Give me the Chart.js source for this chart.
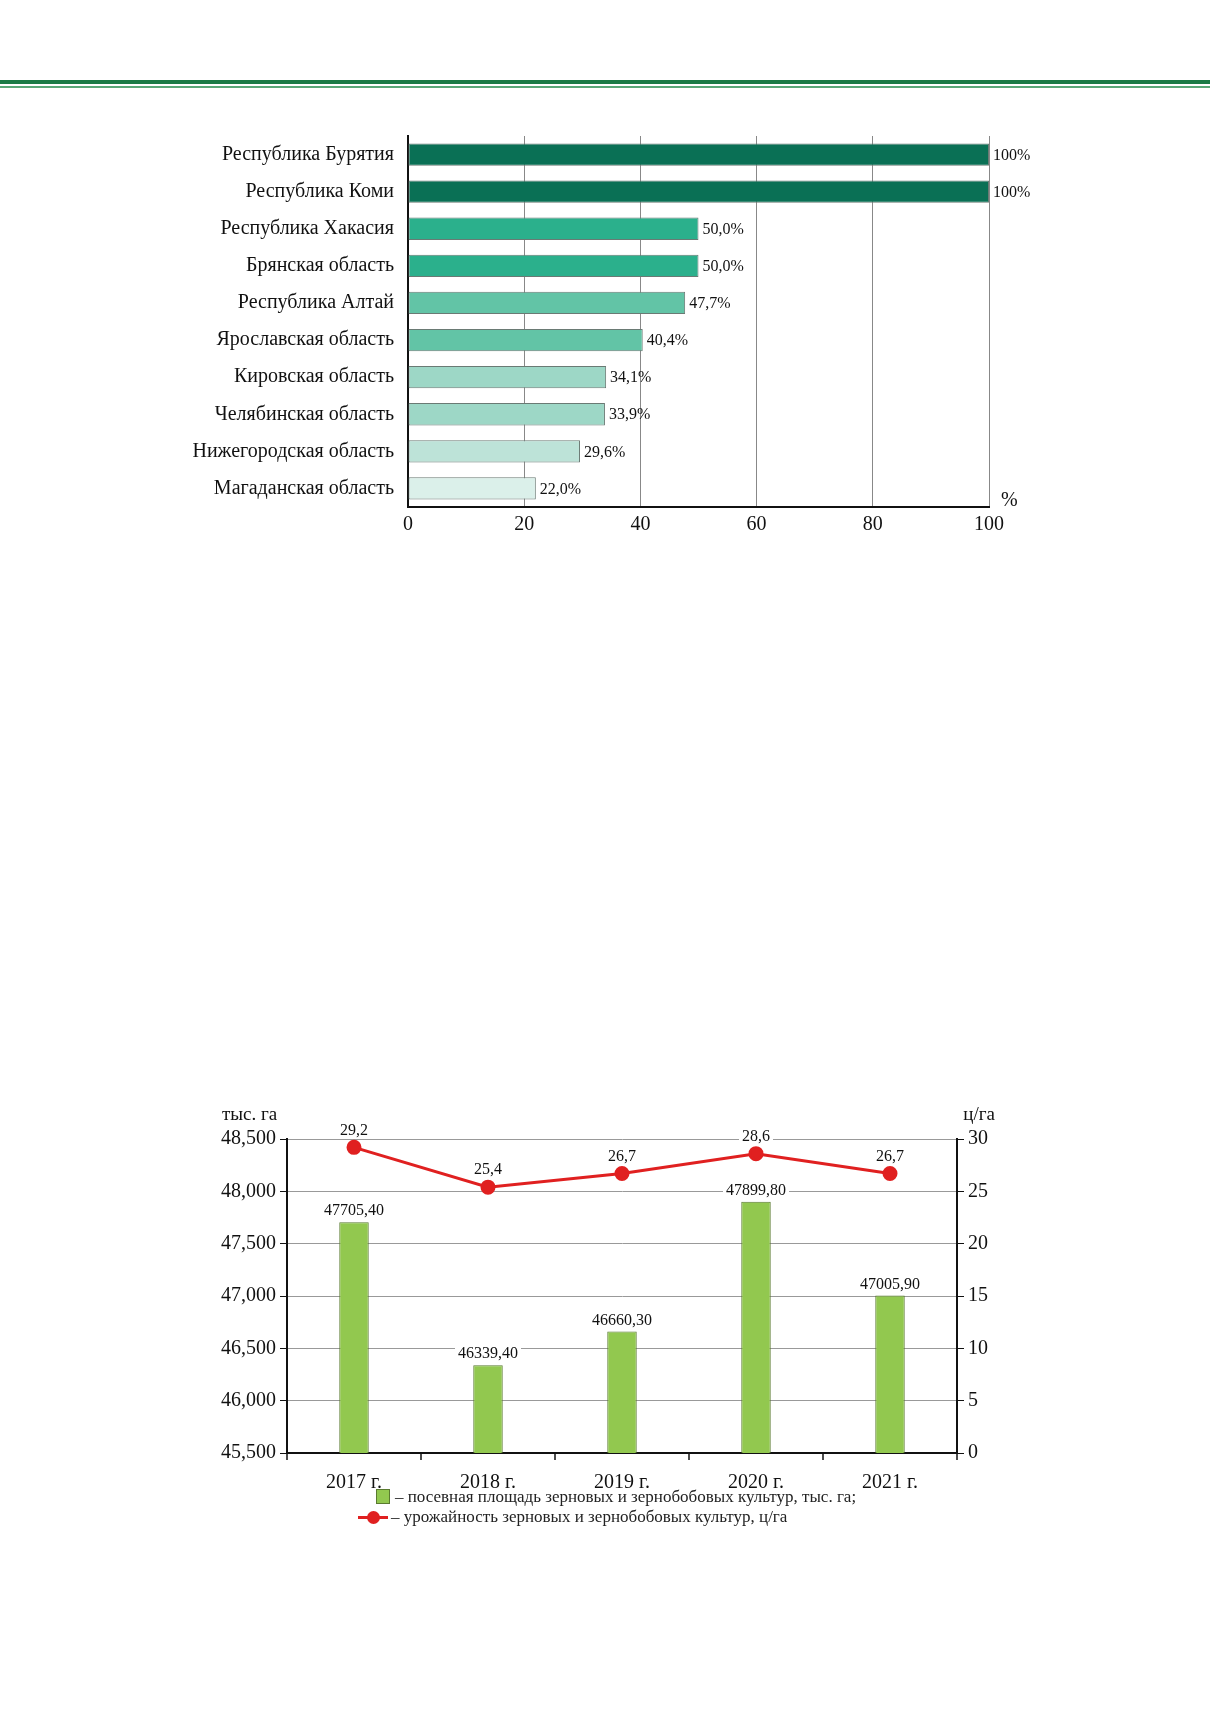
<!DOCTYPE html>
<html><head><meta charset="utf-8">
<script src="https://cdn.jsdelivr.net/npm/chart.js@4"></script>
<style>
body{margin:0;width:1210px;height:1712px;background:#fff;position:relative;font-family:"Liberation Serif",serif;overflow:hidden}
.hl1{position:absolute;left:0;width:1210px;top:80px;height:4px;background:#1a7a45}
.hl2{position:absolute;left:0;width:1210px;top:86px;height:2px;background:#5aa878}
#c1wrap{position:absolute;left:0;top:118px;width:1100px;height:430px}
#c2wrap{position:absolute;left:0;top:1090px;width:1210px;height:403px}
.leg{position:absolute;font-size:17px;color:#222;white-space:nowrap}
</style></head><body>
<div class="hl1"></div><div class="hl2"></div>
<div id="c1wrap"><canvas id="c1"></canvas></div>
<div id="c2wrap"><canvas id="c2"></canvas></div>
<div class="leg" style="left:376px;top:1487px"><span style="display:inline-block;width:12px;height:13px;background:#92c84f;border:1px solid #5a7a30;vertical-align:-2px;margin-right:5px"></span>– посевная площадь зерновых и зернобобовых культур, тыс. га;</div>
<div class="leg" style="left:358px;top:1507px"><span style="display:inline-block;position:relative;width:30px;height:13px;vertical-align:-2px;margin-right:3px"><span style="position:absolute;left:0;top:5px;width:30px;height:3px;background:#e02020"></span><span style="position:absolute;left:9px;top:0;width:13px;height:13px;border-radius:50%;background:#e02020"></span></span>– урожайность зерновых и зернобобовых культур, ц/га</div>
<script>
const regions=["Республика Бурятия","Республика Коми","Республика Хакасия","Брянская область","Республика Алтай","Ярославская область","Кировская область","Челябинская область","Нижегородская область","Магаданская область"];
const shares=[100,100,50.0,50.0,47.7,40.4,34.1,33.9,29.6,22.0];
const shareColors=["#0a7055","#0a7055","#2bb08c","#2bb08c","#62c4a6","#62c4a6","#9dd7c6","#9dd7c6","#bde3d8","#dbf0ea"];
const pctTicks=[0,20,40,60,80,100];

const years=["2017 г.","2018 г.","2019 г.","2020 г.","2021 г."];
const area=[47705.40,46339.40,46660.30,47899.80,47005.90];
const yieldV=[29.2,25.4,26.7,28.6,26.7];

const F="'Liberation Serif', serif";
Chart.defaults.font.family=F;
Chart.defaults.color="#111";

const fmt1=v=>v===100?"100%":v.toFixed(1).replace(".",",")+"%";
const barLabels={id:"bl",afterDatasetsDraw(ch){const c=ch.ctx;const m=ch.getDatasetMeta(0);c.save();c.font="16px "+F;c.fillStyle="#111";c.textBaseline="middle";
m.data.forEach((b,i)=>{c.fillText(fmt1(shares[i]),b.x+4,b.y+1);});
c.font="20px "+F;c.fillText("%",ch.chartArea.right+12,ch.chartArea.bottom-6);c.restore();}};

new Chart(document.getElementById("c1"),{type:"bar",
data:{labels:regions,datasets:[{data:shares,backgroundColor:shareColors,borderColor:"#6a7a74",borderWidth:1,borderSkipped:false,barPercentage:0.6,categoryPercentage:1}]},
options:{indexAxis:"y",responsive:true,maintainAspectRatio:false,animation:false,
layout:{padding:{top:10,right:111,left:0,bottom:0}},
plugins:{legend:{display:false},tooltip:{enabled:false}},
scales:{
x:{min:0,max:100,afterBuildTicks(a){a.ticks=pctTicks.map(v=>({value:v}));},afterFit(a){a.height=41;},
grid:{color:"#888",lineWidth:1,drawTicks:false},border:{color:"#111",width:2},
ticks:{font:{size:20},padding:6,callback:v=>v}},
y:{afterFit(a){a.width=408;},grid:{display:false},border:{color:"#111",width:2},
ticks:{font:{size:20},padding:6,color:"#111"}}}},plugins:[barLabels]});

const lab2={id:"l2",afterDatasetsDraw(ch){const c=ch.ctx;c.save();c.font="16px "+F;c.textAlign="center";c.textBaseline="bottom";
const put=(t,x,y)=>{const w=c.measureText(t).width;c.fillStyle="#fff";c.fillRect(x-w/2-3,y-17,w+6,17);c.fillStyle="#111";c.fillText(t,x,y);};
ch.getDatasetMeta(0).data.forEach((b,i)=>put(area[i].toFixed(2).replace(".",","),b.x,b.y-3));
ch.getDatasetMeta(1).data.forEach((p,i)=>put(yieldV[i].toFixed(1).replace(".",","),p.x,p.y-9));
c.font="19px "+F;c.textAlign="left";c.fillText("тыс. га",222,ch.chartArea.top-14);c.textAlign="right";c.fillText("ц/га",995,ch.chartArea.top-14);
// x tick marks between categories
c.strokeStyle="#111";c.lineWidth=1.5;const a=ch.chartArea,s=(a.right-a.left)/5;
for(let i=0;i<=5;i++){const x=a.left+i*s;c.beginPath();c.moveTo(x,a.bottom);c.lineTo(x,a.bottom+7);c.stroke();}
c.restore();}};

new Chart(document.getElementById("c2"),{type:"bar",
data:{labels:years,datasets:[
{type:"bar",data:area,yAxisID:"y",backgroundColor:"#92c84f",borderColor:"#5a7a30",borderWidth:1,borderSkipped:false,barPercentage:0.22,categoryPercentage:1,order:2},
{type:"line",data:yieldV,yAxisID:"y1",borderColor:"#e02020",backgroundColor:"#e02020",borderWidth:3,pointRadius:6,pointHoverRadius:6,tension:0,order:1}]},
options:{responsive:true,maintainAspectRatio:false,animation:false,
layout:{padding:{top:49,left:0,right:0,bottom:0}},
plugins:{legend:{display:false},tooltip:{enabled:false}},
scales:{
x:{afterFit(a){a.height=40;},grid:{display:false},border:{color:"#111",width:2},ticks:{font:{size:20},padding:10}},
y:{position:"left",min:45500,max:48500,afterFit(a){a.width=287;},ticks:{stepSize:500,font:{size:20},padding:4},
grid:{color:"#999",tickColor:"#111",tickLength:7},border:{color:"#111",width:2}},
y1:{position:"right",min:0,max:30,afterFit(a){a.width=253;},ticks:{stepSize:5,font:{size:20},padding:4},
grid:{drawOnChartArea:false,tickColor:"#111",tickLength:7},border:{color:"#111",width:2}}}},plugins:[lab2]});
</script></body></html>
